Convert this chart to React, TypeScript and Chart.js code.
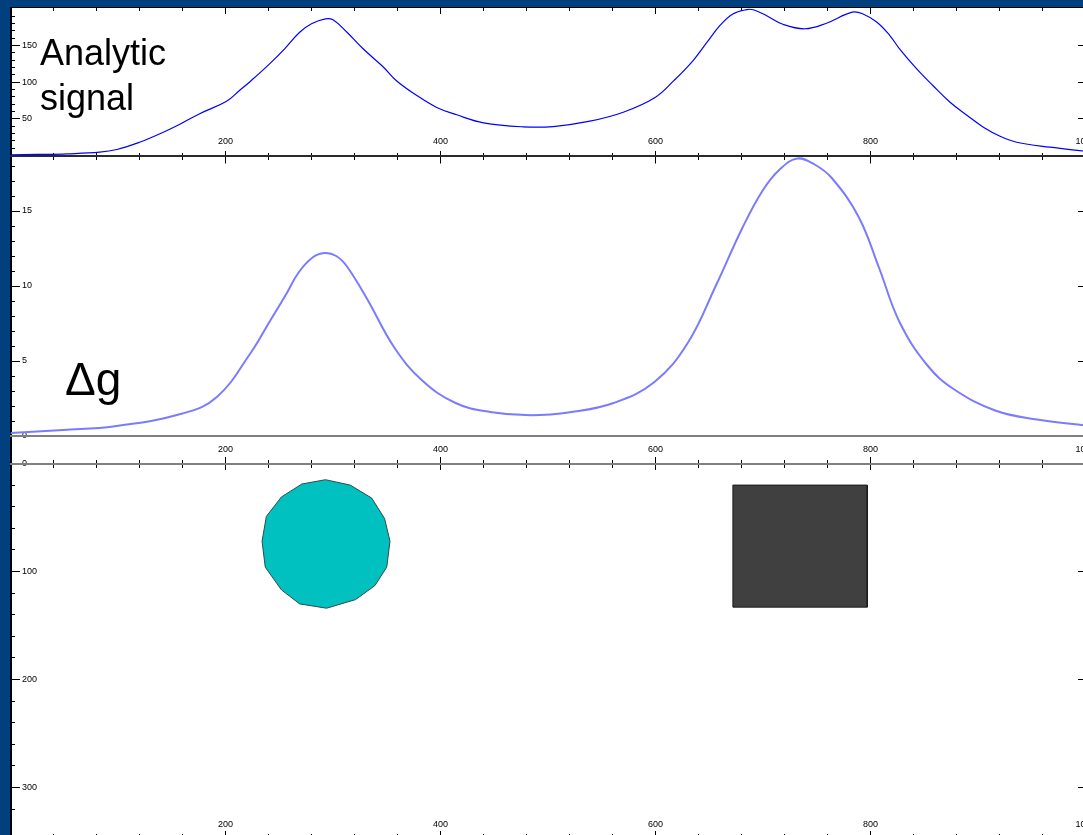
import React, { useEffect, useRef } from 'react';
import { Chart, registerables } from 'chart.js';

Chart.register(...registerables);

// ---------------- data ----------------
// Analytic signal (top panel)
const signalX = [0, 25, 53, 83, 99, 120, 139, 158, 176, 201, 213, 223, 241, 255, 269, 280, 293, 300, 313, 328, 347, 359, 378, 396, 415, 440, 477, 505, 539, 570, 600, 617, 635, 648, 660, 672, 685, 691, 703, 719, 739, 759, 783, 793, 806, 818, 827, 843, 858, 874, 890, 905, 921, 936, 967, 1000];
const signalY = [1, 1.4, 2.3, 4.5, 8.2, 18, 29.6, 43, 57, 74, 88.6, 101, 125, 145.5, 168, 179.6, 186.4, 185, 168, 145.5, 120.4, 102, 81.8, 65.9, 55.5, 44.6, 39.1, 39.5, 46.8, 59, 79.5, 102, 129.5, 154.5, 177.3, 193, 199, 198.7, 191, 178.6, 172.8, 180.4, 195.4, 193, 181.8, 163.6, 145.5, 118.2, 95.5, 72.7, 54.5, 38.6, 25.9, 18.1, 11.3, 5.8];

// Gravity anomaly Δg (middle panel)
const gravX = [0, 49, 97, 160, 192, 224, 240, 256, 268, 281, 292, 303, 313, 332, 357, 383, 414, 446, 484, 522, 561, 599, 630, 656, 681, 700, 716, 732, 748, 764, 789, 808, 827, 853, 878, 916, 955, 1000];
const gravY = [0.2, 0.4, 0.65, 1.5, 2.6, 5.6, 7.5, 9.4, 10.9, 11.9, 12.2, 12.0, 11.3, 9.1, 5.9, 3.7, 2.2, 1.6, 1.38, 1.6, 2.2, 3.6, 6.2, 10.0, 13.9, 16.4, 17.8, 18.5, 18.1, 17.2, 14.6, 11.2, 7.6, 4.7, 3.1, 1.7, 1.1, 0.7];

// Model bodies (bottom panel, depth downward)
const sphereX = [293, 316, 336, 348, 353, 350, 339, 321, 294, 269, 252, 237, 234, 238, 252, 271, 293];
const sphereZ = [15, 20, 32, 51, 72, 96, 113, 126, 134, 130, 117, 96, 72, 49, 31, 19, 15];
const prismX = [672, 797, 797, 672, 672];
const prismZ = [20, 20, 133, 133, 20];

// tick labels
const xTickLabels = [200, 400, 600, 800, 1000];
const signalTickLabels = [50, 100, 150, 200];
const gravTickLabels = [0, 5, 10, 15];
const depthTickLabels = [0, 100, 200, 300];

// ---------------- layout / style constants ----------------
const BLUE = '#023f7e';
const CANVAS_W = 1100;
const CANVAS_H = 850;
const AREA = { left: 10.5, top: 7, right: 1085.5, bottom: 838 };
const X_MIN = 0;
const X_MAX = 1000;
const FONT = "'Liberation Sans', Arial, sans-serif";
const TICK_FONT = { family: FONT, size: 9 };

function panelRange(zero: number, ppu: number, reverse: boolean) {
  if (!reverse) return { min: -(AREA.bottom - zero) / ppu, max: (zero - AREA.top) / ppu };
  return { min: -(zero - AREA.top) / ppu, max: (AREA.bottom - zero) / ppu };
}
const TOP = { zero: 155.5, ppu: 36.67 / 50, reverse: false };
const MID = { zero: 436, ppu: 15, reverse: false };
const BOT = { zero: 463.5, ppu: 1.08, reverse: true };
const topRange = panelRange(TOP.zero, TOP.ppu, TOP.reverse);
const midRange = panelRange(MID.zero, MID.ppu, MID.reverse);
const botRange = panelRange(BOT.zero, BOT.ppu, BOT.reverse);

const zeroFit = (s: any) => {
  if (s.isHorizontal()) s.height = 0; else s.width = 0;
  s.paddingTop = 0; s.paddingBottom = 0; s.paddingLeft = 0; s.paddingRight = 0;
};
const keepRange = (lo: number, hi: number) => (s: any) => {
  s.ticks = s.ticks.filter((t: any) => t.value >= lo - 1e-6 && t.value <= hi + 1e-6);
};
const keepValues = (vals: number[]) => (s: any) => {
  s.ticks = s.ticks.filter((t: any) => vals.some((v) => Math.abs(v - t.value) < 1e-6));
};
const plainLabel = (v: any) => String(Math.round(Number(v) * 1000) / 1000);

function hTicks(at: number, len: number, step: number, border?: { color: string; width: number }) {
  return {
    type: 'linear', axis: 'x', position: { py: at }, min: X_MIN, max: X_MAX,
    afterFit: zeroFit,
    grid: { display: true, drawOnChartArea: false, drawTicks: true, tickLength: len, color: '#000', tickColor: '#000', tickWidth: 1, lineWidth: 1 },
    border: border ? { display: true, color: border.color, width: border.width } : { display: false },
    ticks: { display: false, stepSize: step, autoSkip: false },
  };
}

function vTicks(at: number, len: number, step: number, range: { min: number; max: number }, reverse: boolean, lo: number, hi: number) {
  return {
    type: 'linear', axis: 'y', position: { px: at }, min: range.min, max: range.max, reverse,
    afterFit: zeroFit,
    afterBuildTicks: keepRange(lo, hi),
    grid: { display: true, drawOnChartArea: false, drawTicks: true, tickLength: len, color: '#000', tickColor: '#000', tickWidth: 1, lineWidth: 1 },
    border: { display: false },
    ticks: { display: false, stepSize: step, autoSkip: false },
  };
}

function hLabels(position: any, border?: { color: string; width: number }) {
  return {
    type: 'linear', axis: 'x', position, min: X_MIN, max: X_MAX,
    afterFit: zeroFit,
    afterBuildTicks: keepValues(xTickLabels),
    grid: { display: false, drawTicks: false },
    border: border ? { display: true, color: border.color, width: border.width } : { display: false },
    ticks: { stepSize: 200, autoSkip: false, maxRotation: 0, minRotation: 0, padding: -19, color: '#000', font: TICK_FONT, callback: plainLabel },
  };
}

function panelAxis(range: { min: number; max: number }, reverse: boolean, step: number, labels: number[], border: boolean) {
  return {
    type: 'linear', axis: 'y', position: 'left', min: range.min, max: range.max, reverse,
    afterFit: zeroFit,
    afterBuildTicks: keepValues(labels),
    grid: { display: false, drawTicks: false },
    border: border ? { display: true, color: '#000', width: 2 } : { display: false },
    ticks: { mirror: true, padding: 11.5, stepSize: step, autoSkip: false, color: '#000', font: TICK_FONT, callback: plainLabel },
  };
}

const toPts = (xs: number[], ys: number[]) => xs.map((x, i) => ({ x, y: ys[i] }));

const whiteArea = {
  id: 'whiteArea',
  beforeDraw(chart: any) {
    const { ctx, chartArea: a } = chart;
    ctx.save();
    ctx.fillStyle = '#ffffff';
    ctx.fillRect(a.left, a.top, a.right - a.left, a.bottom - a.top);
    ctx.restore();
  },
};

function buildScales() {
  const s: any = {
    x: { type: 'linear', display: false, min: X_MIN, max: X_MAX },
    px: { type: 'linear', axis: 'x', position: 'bottom', display: false, min: AREA.left, max: AREA.right },
    py: { type: 'linear', axis: 'y', position: 'left', display: false, min: AREA.top, max: AREA.bottom, reverse: true },
    yTop: panelAxis(topRange, false, 50, signalTickLabels, true),
    yMid: panelAxis(midRange, false, 5, gravTickLabels, false),
    yBot: panelAxis(botRange, true, 100, depthTickLabels, false),
    // panel separators + x tick labels
    xl1: hLabels({ yTop: 0 }, { color: '#2a2a2a', width: 2 }),
    xl2: hLabels({ yBot: 0 }, { color: '#808080', width: 2 }),
    xl3: hLabels({ py: AREA.bottom }),
    zeroMid: {
      type: 'linear', axis: 'x', position: { yMid: 0 }, min: X_MIN, max: X_MAX, afterFit: zeroFit,
      grid: { display: false, drawTicks: false }, border: { display: true, color: '#808080', width: 2 },
      ticks: { display: false },
    },
    // x tick marks
    tTopMaj: hTicks(AREA.top, 6, 200, { color: '#000', width: 1 }),
    tTopMin: hTicks(AREA.top, 4, 40),
    t1Maj: hTicks(150.5, 12.5, 200),
    t1Min: hTicks(153, 7, 40),
    t2Maj: hTicks(457, 13, 200),
    t2Min: hTicks(460, 8, 40),
    t3Maj: hTicks(831, 7, 200),
    t3Min: hTicks(834, 4, 40),
    // y tick marks, left side (inward) and right side (major only)
    lTopMaj: vTicks(20, 9.5, 50, topRange, false, 0, 200),
    lTopMin: vTicks(15, 4.5, 10, topRange, false, 0, 200),
    rTop: vTicks(AREA.right, 8, 50, topRange, false, 50, 150),
    lMidMaj: vTicks(20, 9.5, 5, midRange, false, 0, 18),
    lMidMin: vTicks(15, 4.5, 1, midRange, false, 0, 18),
    rMid: vTicks(AREA.right, 8, 5, midRange, false, 5, 15),
    lBotMaj: vTicks(20, 9.5, 100, botRange, true, 0, 300),
    lBotMin: vTicks(15, 4.5, 20, botRange, true, 0, 340),
    rBot: vTicks(AREA.right, 8, 100, botRange, true, 100, 300),
  };
  return s;
}

export default function App() {
  const ref = useRef<HTMLCanvasElement>(null);

  useEffect(() => {
    if (!ref.current) return;
    Chart.defaults.font.family = FONT;
    const chart = new Chart(ref.current, {
      type: 'line',
      data: {
        datasets: [
          {
            label: 'Analytic signal',
            data: toPts(signalX, signalY),
            xAxisID: 'x', yAxisID: 'yTop',
            borderColor: '#0000ff', borderWidth: 1.2,
            pointRadius: 0, fill: false, tension: 0.4,
          },
          {
            label: 'Δg',
            data: toPts(gravX, gravY),
            xAxisID: 'x', yAxisID: 'yMid',
            borderColor: '#7b7bff', borderWidth: 2,
            pointRadius: 0, fill: false, tension: 0.4,
          },
          {
            label: 'Sphere',
            data: toPts(sphereX, sphereZ),
            xAxisID: 'x', yAxisID: 'yBot',
            borderColor: '#2e4c4c', borderWidth: 1, backgroundColor: '#00c0c0',
            pointRadius: 0, fill: 'shape', tension: 0,
          },
          {
            label: 'Prism',
            data: toPts(prismX, prismZ),
            xAxisID: 'x', yAxisID: 'yBot',
            borderColor: '#1a1a1a', borderWidth: 1, backgroundColor: '#404040',
            pointRadius: 0, fill: 'shape', tension: 0,
          },
        ],
      } as any,
      options: {
        responsive: false,
        maintainAspectRatio: false,
        animation: false,
        devicePixelRatio: 1,
        events: [],
        layout: {
          padding: {
            left: AREA.left,
            top: AREA.top,
            right: CANVAS_W - AREA.right,
            bottom: CANVAS_H - AREA.bottom,
          },
        },
        plugins: { legend: { display: false }, tooltip: { enabled: false }, title: { display: false } },
        scales: buildScales(),
      } as any,
      plugins: [whiteArea],
    });
    return () => chart.destroy();
  }, []);

  return (
    <div style={{ position: 'fixed', left: 0, top: 0, width: 1083, height: 835, overflow: 'hidden', background: BLUE }}>
      <canvas ref={ref} width={CANVAS_W} height={CANVAS_H} style={{ position: 'absolute', left: 0, top: 0, width: CANVAS_W, height: CANVAS_H }} />
      <div style={{ position: 'absolute', left: 0, top: 0, width: '100%', height: 7, background: BLUE }} />
      <div style={{ position: 'absolute', left: 40, top: 30, fontFamily: FONT, fontSize: 36, lineHeight: '45px', color: '#000', whiteSpace: 'nowrap' }}>
        Analytic<br />signal
      </div>
      <div style={{ position: 'absolute', left: 65, top: 356, fontFamily: FONT, fontSize: 46, lineHeight: '46px', color: '#000', whiteSpace: 'nowrap' }}>
        Δg
      </div>
    </div>
  );
}
